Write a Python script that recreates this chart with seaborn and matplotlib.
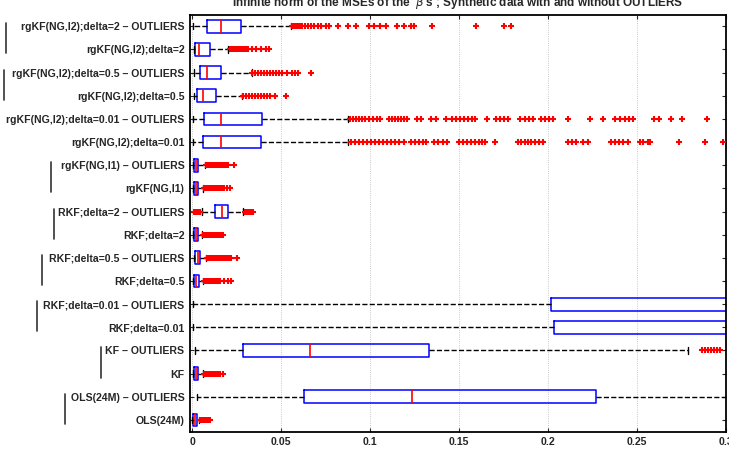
import numpy as np
import pandas as pd
import seaborn as sns
import matplotlib.pyplot as plt
from matplotlib.lines import Line2D
from matplotlib.ticker import FuncFormatter

# methods, top to bottom
labels = [
    'rgKF(NG,l2);delta=2 – OUTLIERS', 'rgKF(NG,l2);delta=2',
    'rgKF(NG,l2);delta=0.5 – OUTLIERS', 'rgKF(NG,l2);delta=0.5',
    'rgKF(NG,l2);delta=0.01 – OUTLIERS', 'rgKF(NG,l2);delta=0.01',
    'rgKF(NG,l1) – OUTLIERS', 'rgKF(NG,l1)',
    'RKF;delta=2 – OUTLIERS', 'RKF;delta=2',
    'RKF;delta=0.5 – OUTLIERS', 'RKF;delta=0.5',
    'RKF;delta=0.01 – OUTLIERS', 'RKF;delta=0.01',
    'KF – OUTLIERS', 'KF',
    'OLS(24M) – OUTLIERS', 'OLS(24M)',
]

# five number summaries (whisker low, q1, median, q3, whisker high)
whis_lo = [0.0006, 0.0007, 0.0007, 0.0007, 0.0002, 0.0003, 0.0003, 0.0003, 0.0054,
           0.0003, 0.0007, 0.0003, 0.0002, 0.0002, 0.0013, 0.0003, 0.0026, 0.0001]
q1 = [0.0082, 0.0017, 0.0045, 0.0026, 0.0063, 0.0060, 0.0007, 0.0007, 0.0128,
      0.0007, 0.0017, 0.0007, 0.2015, 0.2033, 0.0287, 0.0007, 0.0627, 0.0002]
med = [0.0162, 0.0039, 0.0082, 0.0058, 0.0162, 0.0160, 0.0022, 0.0022, 0.0166,
       0.0022, 0.0032, 0.0021, 0.40, 0.41, 0.0659, 0.0020, 0.1235, 0.0013]
q3 = [0.0272, 0.0101, 0.0162, 0.0132, 0.0393, 0.0385, 0.0032, 0.0032, 0.0199,
      0.0032, 0.0045, 0.0035, 0.60, 0.62, 0.1330, 0.0032, 0.2270, 0.0026]
whis_hi = [0.0553, 0.0203, 0.0333, 0.0278, 0.0877, 0.0877, 0.0073, 0.0061, 0.0287,
           0.0056, 0.0076, 0.0061, 0.90, 0.95, 0.2786, 0.0061, 0.40, 0.0040]

outliers = [
    [0.0559, 0.0570, 0.0581, 0.0592, 0.0603, 0.0615, 0.0631, 0.0648, 0.0665, 0.0682,
     0.0704, 0.0726, 0.0749, 0.0771, 0.0821, 0.0877, 0.0922, 0.0994, 0.1022, 0.1056,
     0.1089, 0.1151, 0.1190, 0.1229, 0.1246, 0.1346, 0.1592, 0.1754, 0.1793],
    [0.0212, 0.0223, 0.0235, 0.0246, 0.0257, 0.0268, 0.0279, 0.0291, 0.0302, 0.0313,
     0.0335, 0.0358, 0.0385, 0.0413, 0.0430],
    [0.0337, 0.0352, 0.0369, 0.0385, 0.0402, 0.0419, 0.0436, 0.0453, 0.0469, 0.0486,
     0.0503, 0.0531, 0.0559, 0.0575, 0.0592, 0.0665],
    [0.0285, 0.0302, 0.0318, 0.0335, 0.0352, 0.0369, 0.0385, 0.0402, 0.0419, 0.0436,
     0.0464, 0.0529],
    [0.0888, 0.0905, 0.0922, 0.0939, 0.0955, 0.0972, 0.0994, 0.1017, 0.1039, 0.1056,
     0.1106, 0.1123, 0.1140, 0.1156, 0.1173, 0.1190, 0.1207, 0.1263, 0.1285, 0.1341,
     0.1369, 0.1425, 0.1458, 0.1480, 0.1503, 0.1525, 0.1547, 0.1570, 0.1587, 0.1659,
     0.1709, 0.1732, 0.1754, 0.1777, 0.1844, 0.1872, 0.1894, 0.1916, 0.1961, 0.1983,
     0.2006, 0.2028, 0.2112, 0.2235, 0.2307, 0.2374, 0.2402, 0.2430, 0.2453, 0.2475,
     0.2598, 0.2626, 0.2693, 0.2754, 0.2894],
    [0.0894, 0.0916, 0.0939, 0.0961, 0.0983, 0.1006, 0.1028, 0.1050, 0.1073, 0.1095,
     0.1117, 0.1140, 0.1162, 0.1190, 0.1229, 0.1251, 0.1274, 0.1296, 0.1313, 0.1358,
     0.1380, 0.1408, 0.1430, 0.1497, 0.1520, 0.1542, 0.1564, 0.1587, 0.1609, 0.1631,
     0.1648, 0.1704, 0.1832, 0.1849, 0.1872, 0.1888, 0.1905, 0.1927, 0.1950, 0.1972,
     0.2112, 0.2134, 0.2156, 0.2196, 0.2223, 0.2352, 0.2374, 0.2397, 0.2419, 0.2447,
     0.2514, 0.2536, 0.2559, 0.2575, 0.2737, 0.2883, 0.2983],
    [0.0078, 0.0089, 0.0101, 0.0112, 0.0123, 0.0134, 0.0145, 0.0156, 0.0168, 0.0179,
     0.0190, 0.0201, 0.0235],
    [0.0067, 0.0078, 0.0089, 0.0101, 0.0112, 0.0123, 0.0134, 0.0145, 0.0156, 0.0168,
     0.0179, 0.0196, 0.0212],
    [0.0011, 0.0022, 0.0034, 0.0045, 0.0296, 0.0307, 0.0318, 0.0330, 0.0341],
    [0.0061, 0.0073, 0.0084, 0.0095, 0.0106, 0.0117, 0.0128, 0.0140, 0.0151, 0.0162,
     0.0173],
    [0.0084, 0.0095, 0.0106, 0.0117, 0.0128, 0.0140, 0.0151, 0.0162, 0.0173, 0.0184,
     0.0196, 0.0207, 0.0218, 0.0251],
    [0.0067, 0.0078, 0.0089, 0.0101, 0.0112, 0.0123, 0.0134, 0.0145, 0.0156, 0.0179,
     0.0201, 0.0218],
    [],
    [],
    [0.2866, 0.2883, 0.2899, 0.2916, 0.2933, 0.2950, 0.2966],
    [0.0067, 0.0078, 0.0089, 0.0101, 0.0112, 0.0123, 0.0134, 0.0145, 0.0156, 0.0173],
    [],
    [0.0045, 0.0056, 0.0067, 0.0078, 0.0089, 0.0101],
]

x_ticks = [0, 0.05, 0.1, 0.15, 0.2, 0.25, 0.3]

# group brackets left of the labels (pairs of rows), x in pixels
bracket_x = [6, 4, None, 51, 54, 42, 37, 101, 65]

# build long tables for seaborn
box_df = pd.DataFrame({
    'method': np.repeat(labels, 5),
    'value': np.column_stack([whis_lo, q1, med, q3, whis_hi]).ravel(),
})
out_df = pd.DataFrame({
    'method': [lab for lab, o in zip(labels, outliers) for _ in o],
    'value': [v for o in outliers for v in o],
})

sns.set_style('ticks')
plt.rcParams['font.family'] = ['Liberation Sans', 'DejaVu Sans']

fig = plt.figure(figsize=(7.29, 4.5), dpi=100)
ax = fig.add_axes([190 / 729, 1 - 431.5 / 450, (726 - 190) / 729, (431.5 - 14.7) / 450])
ax.set_axisbelow(True)
ax.grid(True, linestyle=':', color='#b8b8b8', linewidth=0.6)

sns.boxplot(data=box_df, x='value', y='method', order=labels, whis=(0, 100),
            fill=False, width=0.55, linewidth=1.1, color='blue', showfliers=False,
            medianprops=dict(color='red', linewidth=1.2),
            whiskerprops=dict(color='black', linestyle='--', linewidth=1.0),
            capprops=dict(color='black', linewidth=1.0),
            ax=ax)
sns.stripplot(data=out_df, x='value', y='method', order=labels, jitter=False,
              marker='+', color='red', size=5, linewidth=1.5, ax=ax)

ax.set_xlim(-0.0013, 0.3)
ax.set_ylim(len(labels) - 0.5, -0.5)
ax.set_xticks(x_ticks)
ax.xaxis.set_major_formatter(FuncFormatter(lambda v, p: '%g' % v))
ax.set_xlabel('')
ax.set_ylabel('')
ax.tick_params(axis='both', direction='in', length=3, width=0.8, labelsize=7.6,
               top=True, right=True)
ax.tick_params(axis='y', pad=4)
ax.tick_params(axis='x', pad=4)
for t in ax.get_yticklabels() + ax.get_xticklabels():
    t.set_fontweight('bold')
for s in ax.spines.values():
    s.set_visible(True)
    s.set_linewidth(1.3)
    s.set_color('black')

fig.text((190 + 726) / 2 / 729, 1 - 7.5 / 450,
         "Infinite norm of the MSEs of the  $\\hat{\\beta}$'s ; Synthetic data with and without OUTLIERS",
         ha='center', va='baseline', fontsize=8.5, fontweight='bold')

# brackets grouping each pair of rows
for p, bx in enumerate(bracket_x):
    if bx is None:
        continue
    y_top = ax.transData.transform((0, 2 * p))[1] + 3
    y_bot = ax.transData.transform((0, 2 * p + 1))[1] - 4
    fig.add_artist(Line2D([bx, bx], [y_top, y_bot], transform=None,
                          color='#333333', linewidth=1.2))

fig.savefig('out.png', dpi=100)
